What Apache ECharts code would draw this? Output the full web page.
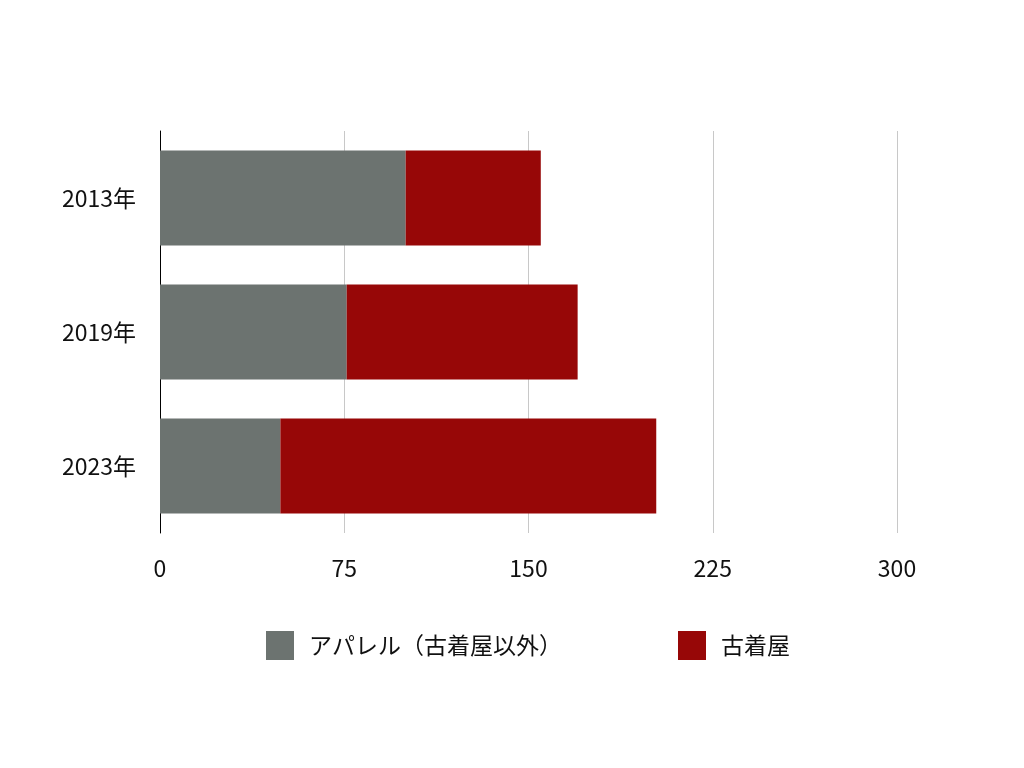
<!DOCTYPE html>
<html><head><meta charset="utf-8">
<script src="https://cdn.jsdelivr.net/npm/echarts@6/dist/echarts.min.js"></script>
<style>html,body{margin:0;padding:0;background:#fff}#c{width:1024px;height:768px}</style>
</head><body><div id="c"></div>
<script>
const categories = ['2013年', '2019年', '2023年'];
const apparel = [100, 76, 49];
const furugi = [55, 94, 153];
const seriesNames = ['アパレル（古着屋以外）', '古着屋'];
const xTicks = [0, 75, 150, 225, 300];

const FONT = '"Noto Sans CJK JP", "Noto Sans", sans-serif';
const chart = echarts.init(document.getElementById('c'));
chart.setOption({
  backgroundColor: '#fff',
  animation: false,
  textStyle: { fontFamily: FONT },
  grid: { left: 160, right: 127, top: 131, bottom: 235 },
  legend: {
    left: 261, top: 626,
    itemWidth: 28, itemHeight: 29, itemGap: 116,
    icon: 'rect',
    textStyle: { fontSize: 23, color: '#111', fontFamily: FONT, padding: [0, 0, 0, 10] },
    data: seriesNames
  },
  xAxis: {
    type: 'value', min: xTicks[0], max: xTicks[xTicks.length - 1], interval: 75,
    axisLine: { show: false }, axisTick: { show: false },
    axisLabel: { fontSize: 23, color: '#111', margin: 24, fontFamily: FONT },
    splitLine: { lineStyle: { color: '#c8c8c8', width: 1 } }
  },
  yAxis: {
    type: 'category', data: categories, inverse: true,
    axisLine: { show: true, lineStyle: { color: '#000', width: 1 } },
    axisTick: { show: false },
    axisLabel: { fontSize: 23, color: '#111', margin: 24, fontFamily: FONT }
  },
  series: [
    { name: seriesNames[0], type: 'bar', stack: 'a', data: apparel, barWidth: 95, itemStyle: { color: '#6c7370' } },
    { name: seriesNames[1], type: 'bar', stack: 'a', data: furugi, barWidth: 95, itemStyle: { color: '#970707' } }
  ]
});
</script></body></html>
